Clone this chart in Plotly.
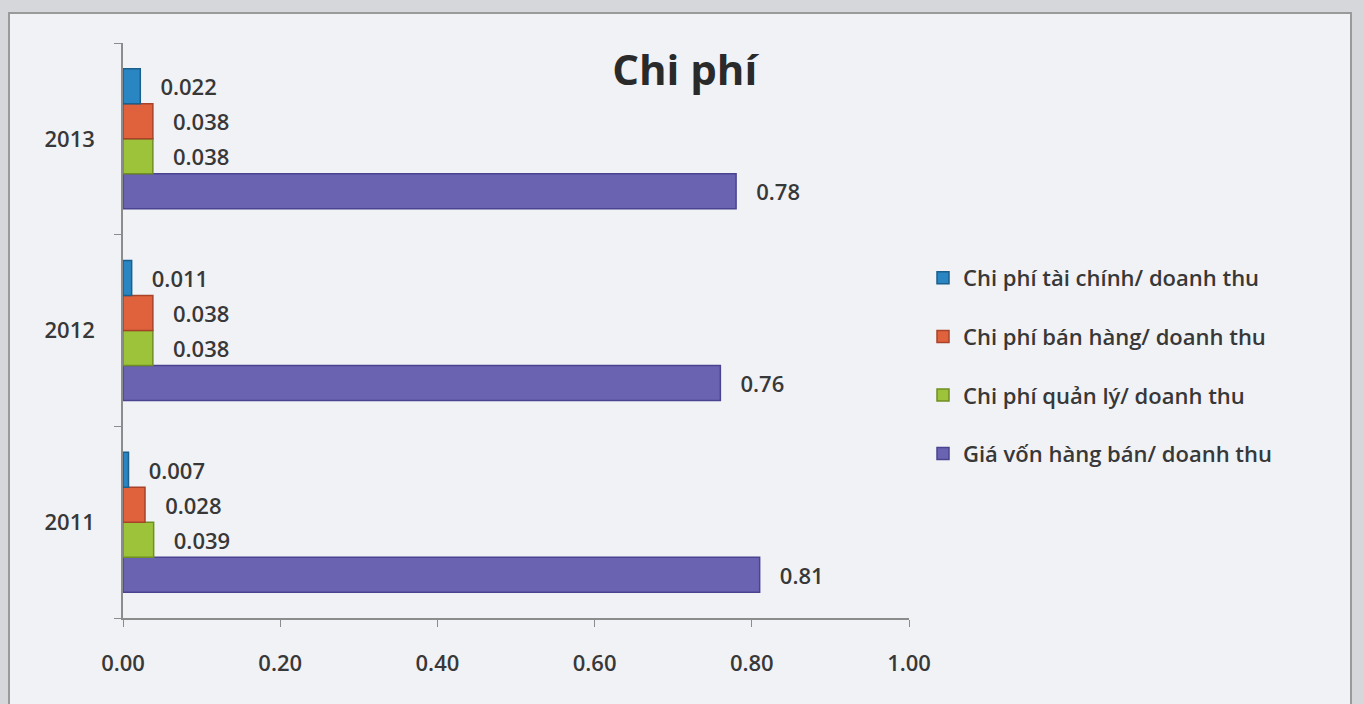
import plotly.graph_objects as go

years = ["2011", "2012", "2013"]

gia_von = [0.81, 0.76, 0.78]
quan_ly = [0.039, 0.038, 0.038]
ban_hang = [0.028, 0.038, 0.038]
tai_chinh = [0.007, 0.011, 0.022]

# name, values, fill, edge, label format, legend rank
series = [
    ("Giá vốn hàng bán/ doanh thu", gia_von, "#6a63b2", "#4a4490", "%{x:.2f}", 4),
    ("Chi phí quản lý/ doanh thu", quan_ly, "#9cc33a", "#6f8f22", "%{x:.3f}", 3),
    ("Chi phí bán hàng/ doanh thu", ban_hang, "#e0623c", "#a8432a", "%{x:.3f}", 2),
    ("Chi phí tài chính/ doanh thu", tai_chinh, "#2a86c2", "#1b5f8c", "%{x:.3f}", 1),
]

FONT = "'Open Sans', sans-serif"
TXT = "#383838"
PAD = "\u00a0\u00a0\u00a0"

fig = go.Figure()
for name, vals, col, edge, tpl, rank in series:
    fig.add_trace(go.Bar(
        y=years, x=vals, name=name, orientation="h",
        marker=dict(color=col, line=dict(color=edge, width=1.5)),
        texttemplate=PAD + tpl, textposition="outside", cliponaxis=False,
        textfont=dict(size=22, color=TXT, family=FONT, weight=600),
        legendgroup=name, legendrank=rank,
    ))

L, R, T, B = 123, 909, 43, 618
W, H = 1364, 704


def px(x):
    return (x - L) / (R - L)


def py(y):
    return (B - y) / (B - T)


# chart border / background
fig.add_shape(type="rect", xref="paper", yref="paper",
              x0=px(9), x1=px(1351), y0=py(13), y1=py(720),
              fillcolor="#f1f2f6", line=dict(color="#9a9a9a", width=2),
              layer="below")

tick_font = dict(size=22, color=TXT, weight=600)

fig.update_layout(
    width=W, height=H,
    barmode="group", bargap=0.27, bargroupgap=0,
    paper_bgcolor="#d6d7da", plot_bgcolor="rgba(0,0,0,0)",
    margin=dict(l=L, r=W - R, t=T, b=H - B),
    font=dict(family=FONT, color=TXT),
    title=dict(text="<b>Chi phí</b>", x=0.502, xref="container",
               y=1 - 70 / H, yanchor="middle", yref="container",
               font=dict(size=42, color="#2a2a2a", family=FONT)),
    xaxis=dict(range=[0, 1.0], tickformat=".2f", dtick=0.2,
               showgrid=False, zeroline=False, showline=True,
               linecolor="#8c8c8c", linewidth=1.5, ticks="outside",
               ticklen=7, tickcolor="#8c8c8c",
               tickfont=tick_font, ticklabelstandoff=18),
    yaxis=dict(showgrid=False, showline=True, linecolor="#8c8c8c",
               linewidth=1.5, ticks="outside", ticklen=7,
               tickcolor="#8c8c8c", tickson="boundaries",
               tickfont=tick_font, ticklabelstandoff=22),
    legend=dict(x=px(923), y=py(366), xanchor="left", yanchor="middle",
                traceorder="grouped", tracegroupgap=27,
                font=dict(size=22, color=TXT, weight=600),
                bgcolor="rgba(0,0,0,0)", itemwidth=30),
    showlegend=True,
)

fig.write_html("out.html", config={"displayModeBar": False},
               post_script="document.body.style.margin='0';")
